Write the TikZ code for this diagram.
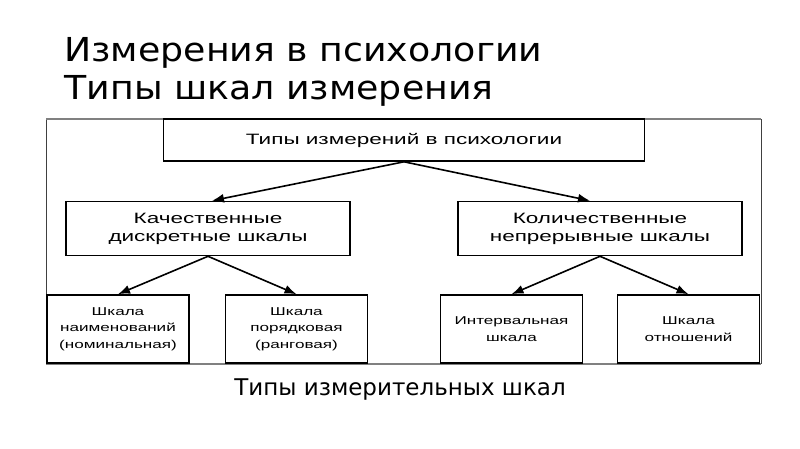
\documentclass[tikz,border=0pt]{standalone}
\usepackage{fontspec}
\setmainfont{DejaVu Sans}
\newfontfamily\titlefont[FakeStretch=1.1]{DejaVu Sans}
\newfontfamily\boxfont[FakeStretch=1.5]{Liberation Sans}
\usetikzlibrary{arrows.meta}
\begin{document}
\begin{tikzpicture} [
                x=1pt, y=-1pt,
                box/.style={draw,line width=1.6pt,align=center,inner sep=2pt},
                top box/.style={box,minimum width=481pt,minimum height=42pt,font=\boxfont\fontsize{15}{18}\selectfont},
                kind box/.style={box,minimum width=284pt,minimum height=54pt,font=\boxfont\fontsize{15}{18}\selectfont},
                scale box/.style={box,minimum width=142pt,minimum height=68pt,font=\boxfont\fontsize{11.4}{16.5}\selectfont},
                arrow edge/.style={draw,line width=1.6pt,-{Latex[length=12pt,width=9pt]}},
                frame side/.style={draw,line width=1pt,black!75},
                frame edge/.style={draw,line width=2pt,black!50},
            ]
            \useasboundingbox[fill=white] (0,0) rectangle (800,449);
            % Titles and caption
            \node[anchor=base west,font=\titlefont\fontsize{33}{38}\selectfont] (title1) at (61,62) {Измерения в психологии};
            \node[anchor=base west,font=\titlefont\fontsize{33}{38}\selectfont] (title2) at (61,100) {Типы шкал измерения};
            \node[anchor=base,font=\fontsize{23}{28}\selectfont] (caption) at (400,395) {Типы измерительных шкал};
            % The frame round the scheme
            \path[frame side] (46,119) -- (46,364) (761,119) -- (761,364);
            \path[frame edge] (46,119) -- (761,119) (46,364) -- (761,364);
            % First we draw the boxes
            \node[top box] (types) at (404,140) {Типы измерений в психологии};
            \foreach \pos/\name/\label in {
                    {(208,228.5)/qual/Качественные\\дискретные шкалы},
                    {(600,228.5)/quant/Количественные\\непрерывные шкалы}}
                \node[kind box] (\name) at \pos {\label};
            \foreach \pos/\name/\label in {
                    {(118,329)/nom/Шкала\\наименований\\(номинальная)},
                    {(296.5,329)/ord/Шкала\\порядковая\\(ранговая)},
                    {(511.5,329)/int/Интервальная\\шкала},
                    {(688.5,329)/ratio/Шкала\\отношений}}
                \node[scale box] (\name) at \pos {\label};
            % Connect boxes with arrows
            \path[arrow edge] (types.south) -- ([xshift=4pt]qual.north);
            \path[arrow edge] (types.south) -- ([xshift=-10pt]quant.north);
            \foreach \source/ \dest in {
                    qual/nom,qual/ord,
                    quant/int,quant/ratio}
                \path[arrow edge] (\source.south) -- (\dest.north);
        \end{tikzpicture}
\end{document}
